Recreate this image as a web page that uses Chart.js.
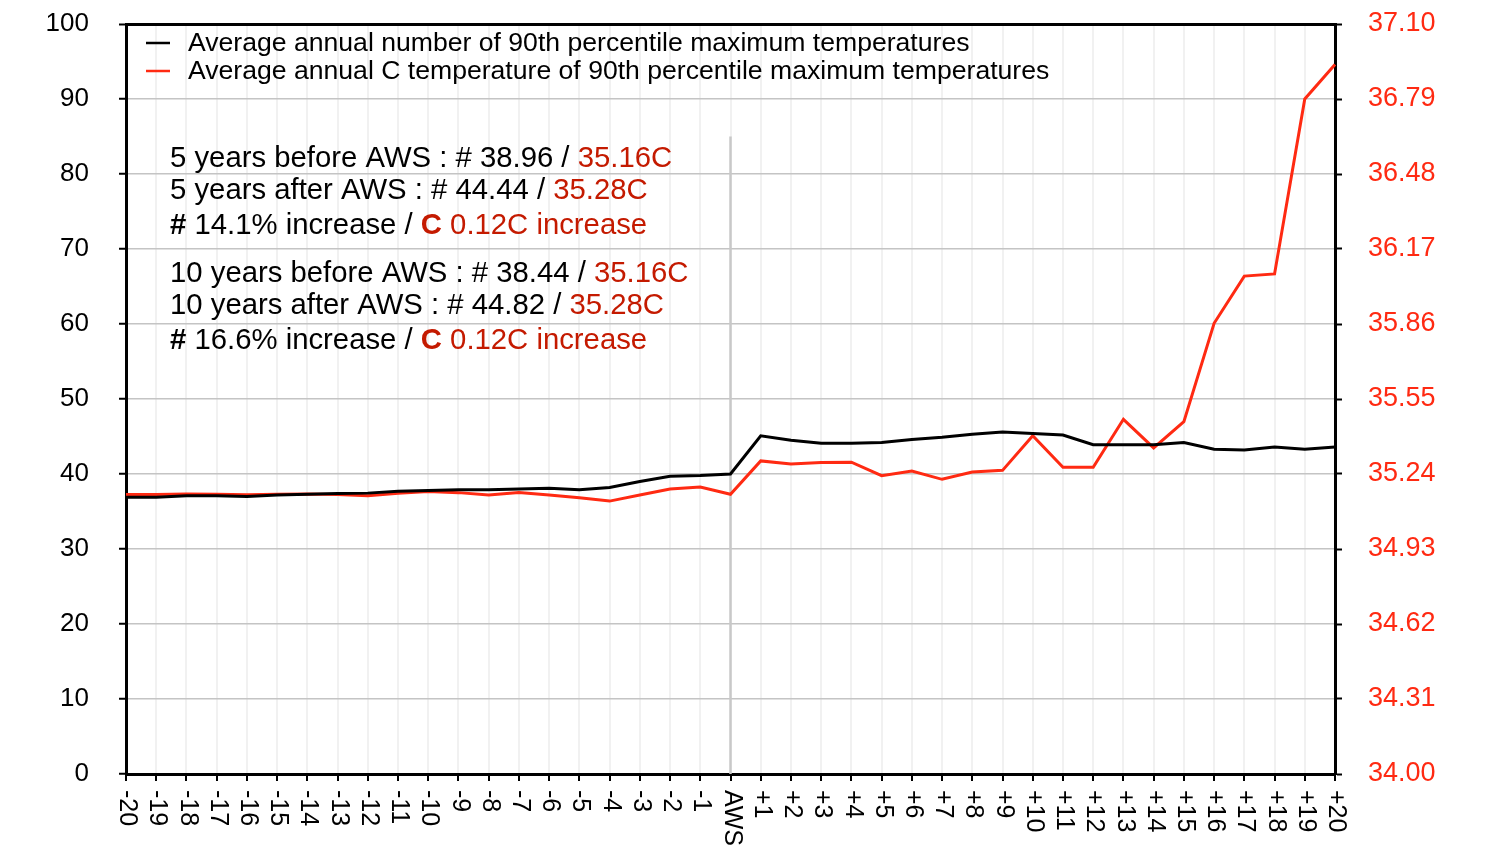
<!DOCTYPE html>
<html>
<head>
<meta charset="utf-8">
<script src="https://cdn.jsdelivr.net/npm/chart.js@4/dist/chart.umd.min.js"></script>
<style>
  html, body { margin: 0; padding: 0; background: #fff; }
  #wrap { width: 1491px; height: 849px; }
</style>
</head>
<body>
<div id="wrap"><canvas id="chart" width="1491" height="849"></canvas></div>
<script>
// years relative to the AWS install
const years = ["-20", "-19", "-18", "-17", "-16", "-15", "-14", "-13", "-12", "-11", "-10",
  "-9", "-8", "-7", "-6", "-5", "-4", "-3", "-2", "-1", "AWS",
  "+1", "+2", "+3", "+4", "+5", "+6", "+7", "+8", "+9", "+10",
  "+11", "+12", "+13", "+14", "+15", "+16", "+17", "+18", "+19", "+20"];

// average annual number of 90th percentile max temps (left axis)
const countValues = [36.9, 36.9, 37.1, 37.1, 37.0, 37.2, 37.3, 37.4, 37.45, 37.7, 37.8,
  37.9, 37.9, 38.0, 38.1, 37.9, 38.2, 39.0, 39.7, 39.8, 40.0,
  45.1, 44.5, 44.1, 44.1, 44.2, 44.6, 44.9, 45.3, 45.6, 45.4,
  45.2, 43.9, 43.9, 43.9, 44.2, 43.3, 43.2, 43.6, 43.3, 43.6];

// average annual C temperature (right axis)
const tempValues = [35.155, 35.155, 35.157, 35.156, 35.154, 35.156, 35.157, 35.155, 35.150, 35.160, 35.168,
  35.163, 35.153, 35.163, 35.153, 35.142, 35.128, 35.153, 35.178, 35.186, 35.156,
  35.294, 35.281, 35.288, 35.289, 35.233, 35.252, 35.218, 35.248, 35.255, 35.398,
  35.268, 35.268, 35.466, 35.348, 35.456, 35.863, 36.058, 36.067, 36.790, 36.933];

const rightTicks = [34.00, 34.31, 34.62, 34.93, 35.24, 35.55, 35.86, 36.17, 36.48, 36.79, 37.10];

const legendLabels = [
  "Average annual number of 90th percentile maximum temperatures",
  "Average annual C temperature of 90th percentile maximum temperatures"
];

const FONT = '"Liberation Sans", Arial, Helvetica, sans-serif';
const RED = "#ff2a12";
const DARKRED = "#c41a00";

// summary text blocks, [text, colour, bold]
const notes = [
  [["5 years before AWS : # 38.96 / ", "#000"], ["35.16C", DARKRED]],
  [["5 years after AWS : # 44.44 / ", "#000"], ["35.28C", DARKRED]],
  [["#", "#000", true], [" 14.1% increase / ", "#000"], ["C", DARKRED, true], [" 0.12C increase", DARKRED]],
  [["10 years before AWS : # 38.44 / ", "#000"], ["35.16C", DARKRED]],
  [["10 years after AWS : # 44.82 / ", "#000"], ["35.28C", DARKRED]],
  [["#", "#000", true], [" 16.6% increase / ", "#000"], ["C", DARKRED, true], [" 0.12C increase", DARKRED]]
];
const noteBaselines = [167, 199, 234, 282, 314, 349];

const extras = {
  id: "extras",
  beforeDatasetsDraw(chart) {
    const ctx = chart.ctx;
    const x = chart.scales.x.getPixelForValue(years.indexOf("AWS"));
    const yL = chart.scales.y;
    ctx.save();
    ctx.strokeStyle = "#c8c8c8";
    ctx.lineWidth = 2.5;
    ctx.beginPath();
    ctx.moveTo(x, yL.getPixelForValue(85));
    ctx.lineTo(x, yL.getPixelForValue(0));
    ctx.stroke();
    ctx.restore();
  },
  afterDraw(chart) {
    const ctx = chart.ctx;
    const xs = chart.scales.x;
    const area = chart.chartArea;
    ctx.save();

    // x labels, rotated clockwise
    ctx.font = "25px " + FONT;
    ctx.fillStyle = "#000";
    ctx.textAlign = "left";
    ctx.textBaseline = "middle";
    years.forEach((lab, i) => {
      const px = xs.getPixelForTick(i);
      ctx.save();
      ctx.translate(px + 1, area.bottom + 16);
      ctx.rotate(Math.PI / 2);
      ctx.fillText(lab, 0, 0);
      ctx.restore();
    });

    // legend
    const colors = ["#000", RED];
    ctx.font = "26.6px " + FONT;
    ctx.textBaseline = "middle";
    legendLabels.forEach((t, i) => {
      const y = 43 + i * 28;
      ctx.strokeStyle = colors[i];
      ctx.lineWidth = 2.5;
      ctx.beginPath();
      ctx.moveTo(146, y);
      ctx.lineTo(170, y);
      ctx.stroke();
      ctx.fillStyle = "#000";
      ctx.fillText(t, 188, y + 1);
    });

    // notes
    ctx.textBaseline = "alphabetic";
    notes.forEach((segs, i) => {
      let x = 170;
      segs.forEach(([t, c, b]) => {
        ctx.font = (b ? "bold " : "") + "29.3px " + FONT;
        ctx.fillStyle = c;
        ctx.fillText(t, x, noteBaselines[i]);
        x += ctx.measureText(t).width;
      });
    });
    ctx.restore();
  }
};

function fitVertical(width) {
  return (s) => { s.width = width; s.paddingTop = 0; s.paddingBottom = 0; };
}

new Chart(document.getElementById("chart"), {
  type: "line",
  data: {
    labels: years,
    datasets: [
      { label: legendLabels[0], data: countValues, yAxisID: "y", borderColor: "#000",
        borderWidth: 3, pointRadius: 0, tension: 0 },
      { label: legendLabels[1], data: tempValues, yAxisID: "y1", borderColor: RED,
        borderWidth: 3, pointRadius: 0, tension: 0 }
    ]
  },
  options: {
    responsive: false,
    animation: false,
    layout: { padding: { top: 24, left: 0, right: 0, bottom: 0 } },
    plugins: { legend: { display: false }, tooltip: { enabled: false } },
    scales: {
      x: {
        ticks: { display: false },
        grid: { color: "#f1f1f1", lineWidth: 2, tickColor: "#000", tickLength: 7, tickWidth: 2 },
        border: { color: "#000", width: 3 },
        afterFit: (s) => { s.height = 75; s.paddingLeft = 0; s.paddingRight = 0; }
      },
      y: {
        position: "left",
        min: 0, max: 100,
        ticks: { stepSize: 10, color: "#000", padding: 30, font: { size: 26, family: FONT } },
        grid: {
          color: (c) => c.tick && c.tick.value === 100 ? "#000" : "#c4c4c4",
          lineWidth: (c) => c.tick && c.tick.value === 100 ? 3 : 1.5,
          tickColor: "#000", tickLength: 7, tickWidth: 2
        },
        border: { color: "#000", width: 3 },
        afterFit: fitVertical(126)
      },
      y1: {
        position: "right",
        min: 34, max: 37.1,
        afterBuildTicks: (s) => { s.ticks = rightTicks.map(v => ({ value: v })); },
        ticks: { color: RED, padding: 26, font: { size: 27, family: FONT },
          callback: (v) => Number(v).toFixed(2) },
        grid: { drawOnChartArea: false, tickColor: "#000", tickLength: 7, tickWidth: 2 },
        border: { color: "#000", width: 3 },
        afterFit: fitVertical(156)
      }
    }
  },
  plugins: [extras]
});
</script>
</body>
</html>
